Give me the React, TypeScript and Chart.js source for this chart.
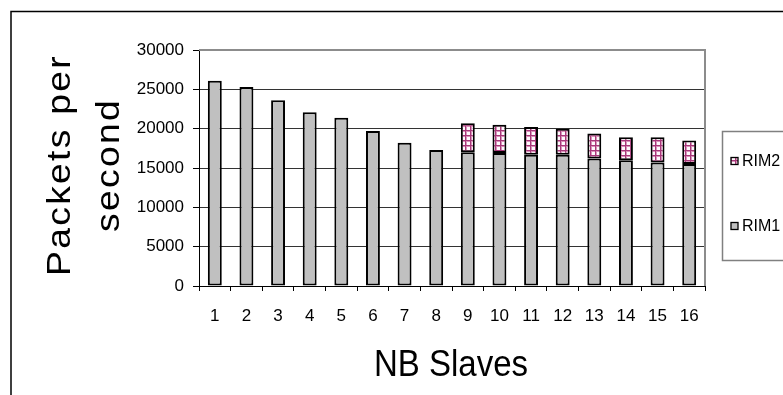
import { useEffect, useRef } from "react";
import { Chart, registerables } from "chart.js";

Chart.register(...registerables);

// Number of slaves on the x axis
const slaves = ["1", "2", "3", "4", "5", "6", "7", "8", "9", "10", "11", "12", "13", "14", "15", "16"];
// Packets per second handled by the first RIM
const rim1 = [26100, 25300, 23600, 22100, 21400, 19700, 18200, 17300, 17000, 16900, 16700, 16700, 16200, 16000, 15700, 15500];
// Extra packets per second once the second RIM is in use
const rim2 = [null, null, null, null, null, null, null, null, 3700, 3600, 3500, 3300, 3200, 2900, 3200, 3000];
// Value axis range and step
const yMin = 0;
const yMax = 30000;
const yStep = 5000;

const FONT = "'Liberation Sans', Arial, Helvetica, sans-serif";

function makeGridPattern(ctx: CanvasRenderingContext2D): CanvasPattern | string {
  const tile = document.createElement("canvas");
  tile.width = 5;
  tile.height = 5;
  const t = tile.getContext("2d");
  if (!t) return "#d8a0c0";
  t.fillStyle = "#fdf8fb";
  t.fillRect(0, 0, 5, 5);
  t.fillStyle = "#d892b9";
  t.fillRect(1, 0, 1, 5);
  t.fillRect(0, 1, 5, 1);
  t.fillStyle = "#a8387a";
  t.fillRect(0, 0, 1, 5);
  t.fillRect(0, 0, 5, 1);
  return ctx.createPattern(tile, "repeat") || "#d8a0c0";
}

const decorations = {
  id: "decorations",
  afterDraw(chart: any) {
    const ctx: CanvasRenderingContext2D = chart.ctx;
    const area = chart.chartArea;
    ctx.save();

    // outer frame (top and left edges)
    ctx.strokeStyle = "#000";
    ctx.lineWidth = 1.5;
    ctx.beginPath();
    ctx.moveTo(11, 400);
    ctx.lineTo(11, 11.5);
    ctx.lineTo(790, 11.5);
    ctx.stroke();

    // plot area border (top and right)
    ctx.strokeStyle = "#8c8c8c";
    ctx.lineWidth = 2;
    ctx.beginPath();
    ctx.moveTo(area.left, area.top);
    ctx.lineTo(area.right, area.top);
    ctx.lineTo(area.right, area.bottom);
    ctx.stroke();

    // x axis title
    ctx.fillStyle = "#000";
    ctx.save();
    ctx.font = `33px ${FONT}`;
    ctx.textAlign = "center";
    ctx.textBaseline = "alphabetic";
    ctx.translate((area.left + area.right) / 2 - 1, 376);
    ctx.scale(1, 1.13);
    ctx.fillText("NB Slaves", 0, 0);
    ctx.restore();

    // y axis title, two lines
    const yLines: [string, number][] = [["Packets per", 69.5], ["second", 118.5]];
    for (const [text, bx] of yLines) {
      ctx.save();
      ctx.font = `33px ${FONT}`;
      (ctx as any).letterSpacing = "2px";
      ctx.textAlign = "center";
      ctx.textBaseline = "alphabetic";
      ctx.translate(bx, 165);
      ctx.rotate(-Math.PI / 2);
      ctx.scale(1.13, 1);
      ctx.fillText(text, 0, 0);
      ctx.restore();
    }

    // legend box
    ctx.strokeStyle = "#808080";
    ctx.lineWidth = 1.5;
    ctx.strokeRect(722.5, 131.5, 100, 129);

    const datasets = chart.data.datasets;
    const rows: [number, number][] = [[1, 161], [0, 226]];
    ctx.font = `16px ${FONT}`;
    ctx.textAlign = "left";
    ctx.textBaseline = "middle";
    for (const [di, cy] of rows) {
      const ds = datasets[di];
      ctx.fillStyle = ds.backgroundColor;
      ctx.fillRect(731, cy - 3.5, 7, 7);
      ctx.strokeStyle = "#000";
      ctx.lineWidth = 1.3;
      ctx.strokeRect(731, cy - 3.5, 7, 7);
      ctx.fillStyle = "#000";
      ctx.fillText(ds.label, 742, cy + 0.5);
    }

    ctx.restore();
  },
};

export default function App() {
  const canvasRef = useRef<HTMLCanvasElement | null>(null);

  useEffect(() => {
    const canvas = canvasRef.current;
    if (!canvas) return;
    const ctx = canvas.getContext("2d");
    if (!ctx) return;
    const pattern = makeGridPattern(ctx);

    const chart = new Chart(canvas, {
      type: "bar",
      data: {
        labels: slaves,
        datasets: [
          {
            label: "RIM1",
            data: rim1,
            backgroundColor: "#c0c0c0",
            borderColor: "#000",
            borderWidth: 2,
            borderSkipped: false,
            barPercentage: 0.44,
            categoryPercentage: 1,
          },
          {
            label: "RIM2",
            data: rim2 as any,
            backgroundColor: pattern as any,
            borderColor: "#000",
            borderWidth: 2,
            borderSkipped: false,
            barPercentage: 0.44,
            categoryPercentage: 1,
          },
        ],
      },
      options: {
        responsive: false,
        animation: false,
        devicePixelRatio: 1,
        layout: { padding: { left: 0, top: 50, right: 78, bottom: 0 } },
        plugins: {
          legend: { display: false },
          tooltip: { enabled: false },
        },
        scales: {
          x: {
            stacked: true,
            offset: true,
            afterFit(scale: any) {
              scale.height = 109;
            },
            grid: {
              offset: true,
              drawOnChartArea: false,
              drawTicks: true,
              tickLength: 5,
              color: "#000",
              tickColor: "#000",
              lineWidth: 1,
            },
            border: { display: true, color: "#000", width: 1 },
            ticks: {
              color: "#000",
              font: { family: FONT, size: 17 },
              padding: 15,
              maxRotation: 0,
              autoSkip: false,
            },
          },
          y: {
            stacked: true,
            min: yMin,
            max: yMax,
            afterFit(scale: any) {
              scale.width = 199;
            },
            grid: {
              color: (c: any) => (c.tick && c.tick.value === yMax ? "rgba(0,0,0,0)" : "#333"),
              tickColor: "#000",
              tickLength: 6,
              lineWidth: 1,
            },
            border: { display: true, color: "#000", width: 1 },
            ticks: {
              stepSize: yStep,
              color: "#000",
              font: { family: FONT, size: 17 },
              padding: 9,
              callback: (v: any) => String(v),
            },
          },
        },
      },
      plugins: [decorations],
    });

    return () => chart.destroy();
  }, []);

  return (
    <div style={{ position: "absolute", left: 0, top: 0, width: 783, height: 395, background: "#fff" }}>
      <canvas ref={canvasRef} width={783} height={395} style={{ display: "block" }} />
    </div>
  );
}
